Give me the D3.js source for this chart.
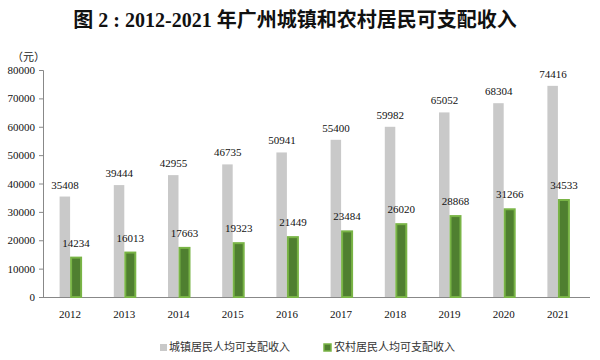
<!DOCTYPE html>
<html><head><meta charset="utf-8">
<script src="https://cdn.jsdelivr.net/npm/d3@7/dist/d3.min.js"></script>
<style>body{margin:0;background:#fff}svg{display:block}</style>
</head><body>
<svg id="c" width="600" height="360"></svg>
<script>
const years = ["2012","2013","2014","2015","2016","2017","2018","2019","2020","2021"];
const urban = [35408,39444,42955,46735,50941,55400,59982,65052,68304,74416];
const rural = [14234,16013,17663,19323,21449,23484,26020,28868,31266,34533];
const yTicks = [0,10000,20000,30000,40000,50000,60000,70000,80000];
const seriesNames = ["城镇居民人均可支配收入","农村居民人均可支配收入"];

const svg = d3.select("#c");
const serif = "'Liberation Serif','Times New Roman',serif";
const cjk = "'Liberation Serif','Noto Sans CJK SC',serif";

svg.append("text").attr("x",295).attr("y",27).attr("text-anchor","middle")
  .attr("font-family",cjk).attr("font-weight","bold").attr("font-size",20).attr("fill","#111")
  .text("图 2 : 2012-2021 年广州城镇和农村居民可支配收入");

svg.append("text").attr("x",12).attr("y",61).attr("font-family",cjk).attr("font-size",11).attr("fill","#222").text("（元）");

const x = d3.scaleBand().domain(years).range([43,585]);
const y = d3.scaleLinear().domain([0,80000]).range([297,70]);

const yAxis = svg.append("g").attr("transform","translate(43,0)")
  .call(d3.axisLeft(y).tickValues(yTicks).tickSize(4).tickFormat(d=>d));
yAxis.select(".domain").attr("stroke","#888").attr("d","M-4,70.5H0.5V297.5");
yAxis.selectAll(".tick line").attr("stroke","#888");
yAxis.selectAll("text").attr("font-family",serif).attr("font-size",11).attr("fill","#111").attr("x",-8);

const xAxis = svg.append("g").attr("transform","translate(0,297)")
  .call(d3.axisBottom(x).tickSize(0).tickPadding(13));
xAxis.select(".domain").attr("stroke","#888").attr("d","M43,0.5H590");
xAxis.selectAll("text").attr("font-family",serif).attr("font-size",11).attr("fill","#111");

const g = svg.append("g");
years.forEach((yr,i)=>{
  const c = x(yr)+x.bandwidth()/2;
  g.append("rect").attr("x",c-10.5).attr("y",y(urban[i])).attr("width",10.5).attr("height",y(0)-y(urban[i])).attr("fill","#c9c9c9");
  g.append("rect").attr("x",c+1).attr("y",y(rural[i])+1).attr("width",10).attr("height",y(0)-y(rural[i])-1)
    .attr("fill","#4f7f30").attr("stroke","#79b446").attr("stroke-width",2);
  g.append("text").attr("x",c-5).attr("y",y(urban[i])-8).attr("text-anchor","middle")
    .attr("font-family",serif).attr("font-size",11).attr("fill","#111").text(urban[i]);
  g.append("text").attr("x",c+6).attr("y",y(rural[i])-10).attr("text-anchor","middle")
    .attr("font-family",serif).attr("font-size",11).attr("fill","#111").text(rural[i]);
});

const leg = svg.append("g");
leg.append("rect").attr("x",160).attr("y",344).attr("width",7).attr("height",7).attr("fill","#c9c9c9");
leg.append("text").attr("x",169).attr("y",351).attr("font-family",cjk).attr("font-size",11).attr("fill","#333").text(seriesNames[0]);
leg.append("rect").attr("x",324).attr("y",344).attr("width",7).attr("height",7).attr("fill","#4f7f30").attr("stroke","#79b446").attr("stroke-width",1.5);
leg.append("text").attr("x",334).attr("y",351).attr("font-family",cjk).attr("font-size",11).attr("fill","#333").text(seriesNames[1]);
</script>
</body></html>
